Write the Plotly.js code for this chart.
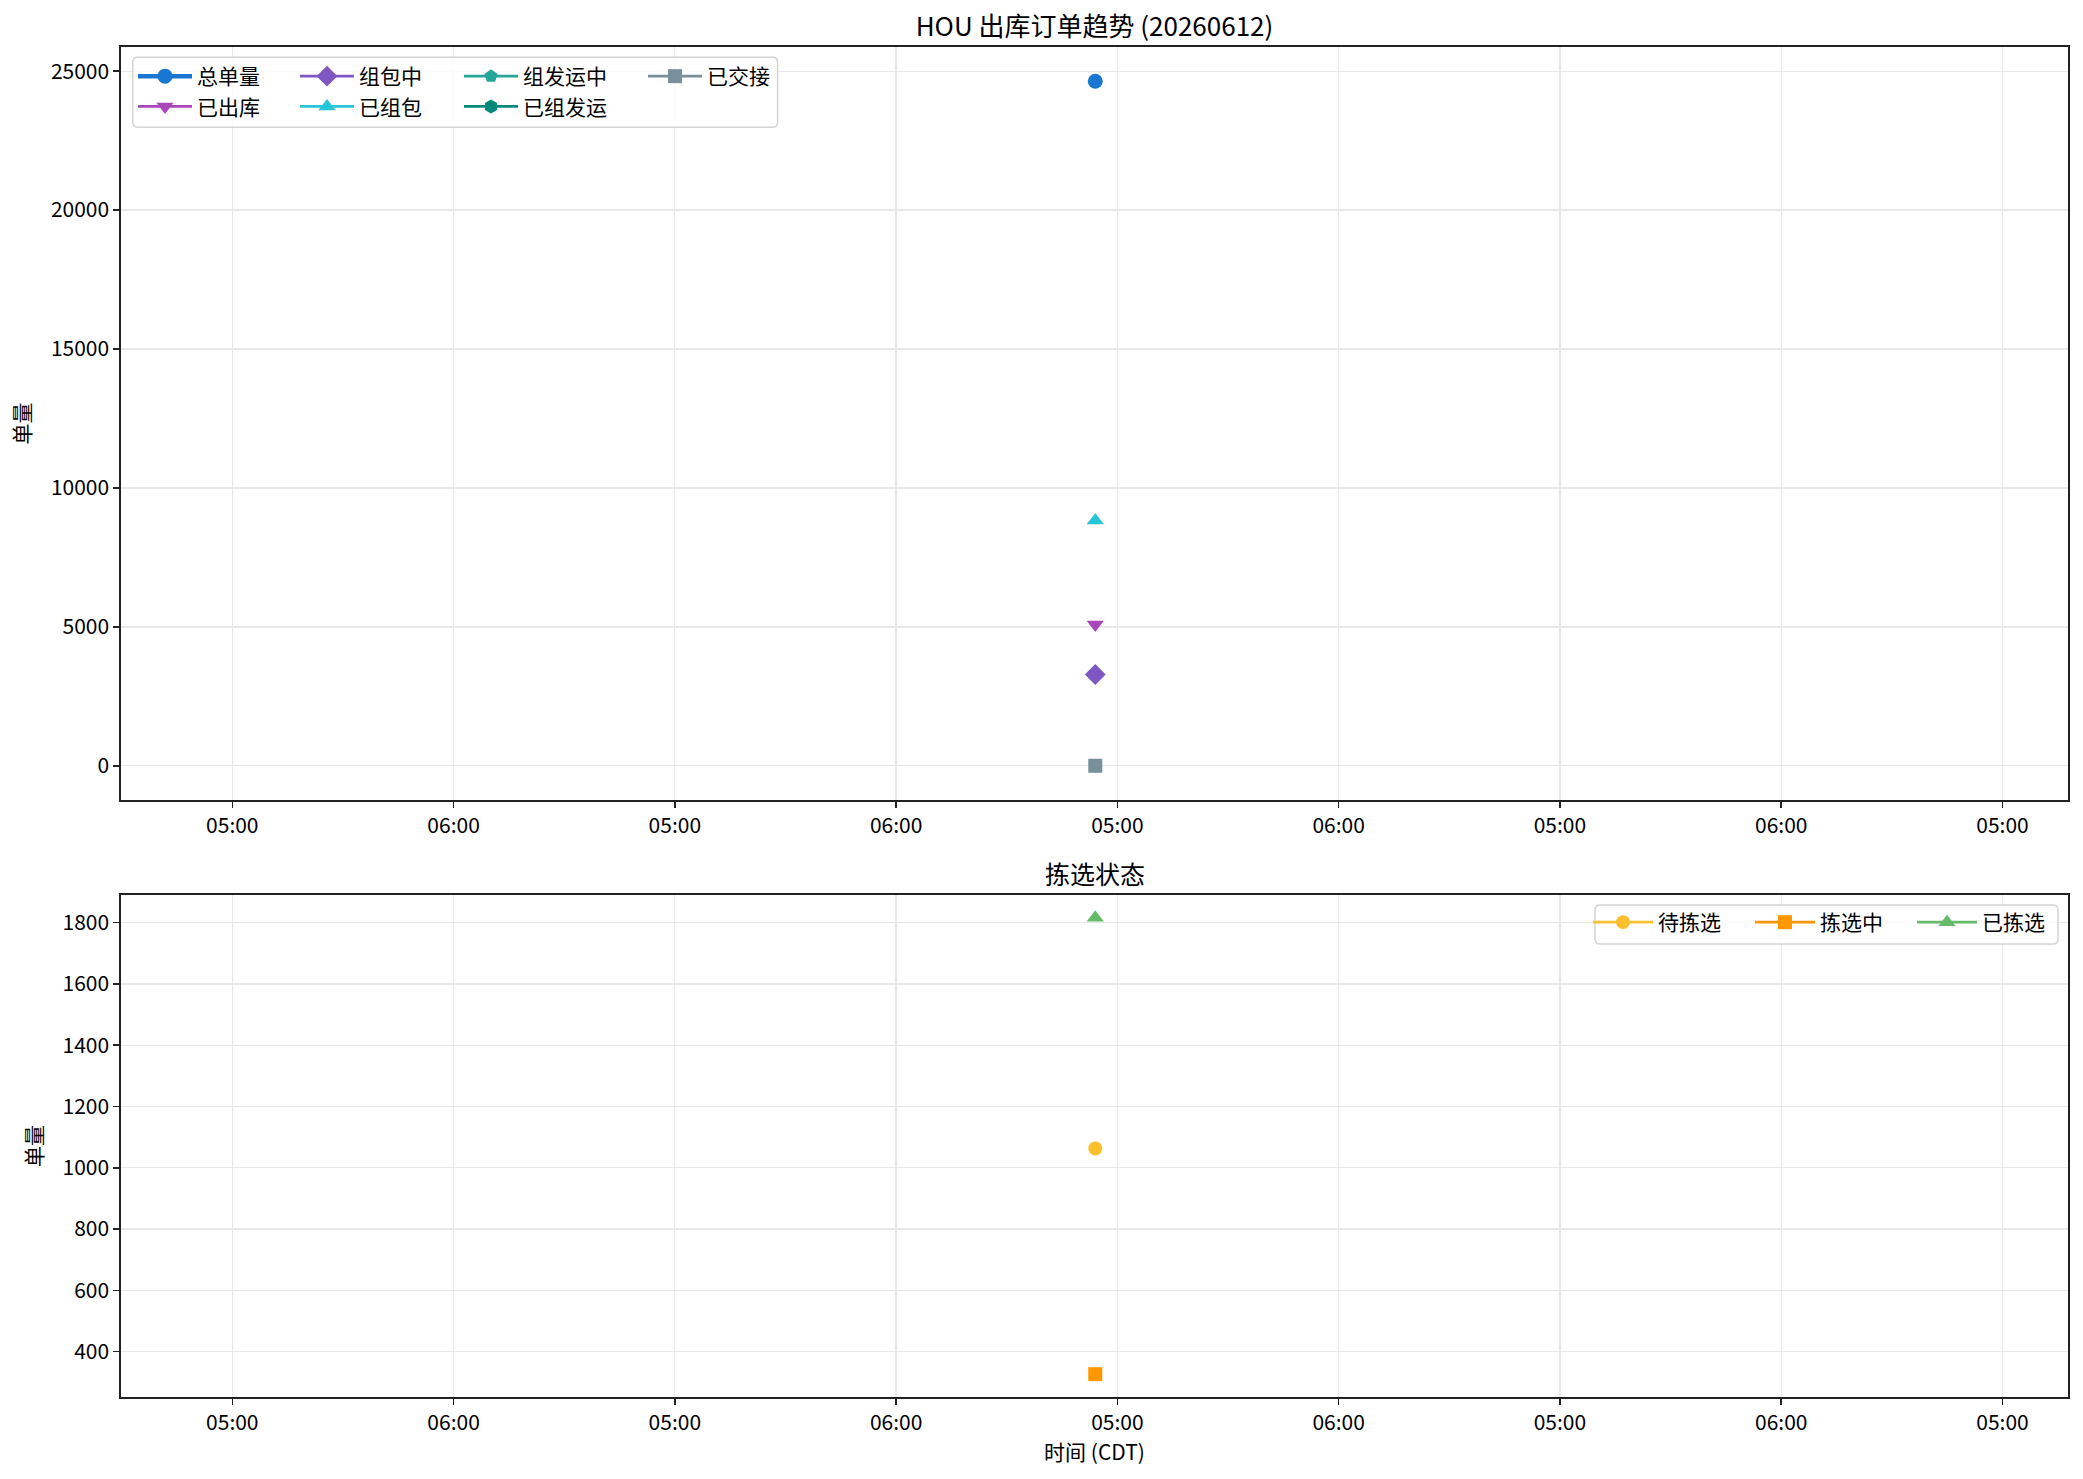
<!DOCTYPE html>
<html><head><meta charset="utf-8">
<script src="https://cdn.plot.ly/plotly-3.0.1.min.js"></script>
<style>html,body{margin:0;padding:0;background:#fff;overflow:hidden}</style>
</head><body><div id="chart" style="width:2083px;height:1479px;overflow:hidden"></div>
<script>
// ---- data ----
const tickLabels = ['05:00','06:00','05:00','06:00','05:00','06:00','05:00','06:00','05:00'];
const snapshotPos = [3.9];
const orderSeries = ['总单量','已出库','组包中','已组包','组发运中','已组发运','已交接'];
const orderValues = [24640, 5083, 3285, 8830, 0, 0, 0];
const pickSeries = ['待拣选','拣选中','已拣选'];
const pickValues = [1063, 326, 1816];
const chartTitle = 'HOU 出库订单趋势 (20260612)';
const subTitle = '拣选状态';
const yTitle = '单量';
const xTitle = '时间 (CDT)';

// ---- styles ----
const FONT = '"Noto Sans CJK SC", "Noto Sans", sans-serif';
const orderColors = ['#1976D2','#AB47BC','#7E57C2','#26C6DA','#26A69A','#00897B','#78909C'];
const orderSymbols = ['circle','triangle-down','diamond','triangle-up','pentagon','hexagon','square'];
const orderSizes = [15,15,16,15,14,14,14];
const orderLegend = ['legend','legend','legend2','legend2','legend3','legend3','legend4'];
const pickColors = ['#FBC02D','#FF9800','#66BB6A'];
const pickSymbols = ['circle','square','triangle-up'];
const pickSizes = [14,14,15];

const traces = [];
orderSeries.forEach((name, i) => {
  traces.push({
    x: snapshotPos, y: [orderValues[i]], name: name, type: 'scatter', mode: 'lines+markers',
    xaxis: 'x', yaxis: 'y', legend: orderLegend[i], legendgroup: 'o' + i,
    line: {color: orderColors[i], width: i === 0 ? 4.5 : 2.8},
    marker: {color: orderColors[i], symbol: orderSymbols[i], size: orderSizes[i]}
  });
});
pickSeries.forEach((name, i) => {
  traces.push({
    x: snapshotPos, y: [pickValues[i]], name: name, type: 'scatter', mode: 'lines+markers',
    xaxis: 'x2', yaxis: 'y2', legend: 'legend5',
    line: {color: pickColors[i], width: 2.8},
    marker: {color: pickColors[i], symbol: pickSymbols[i], size: pickSizes[i]}
  });
});

const tickIdx = tickLabels.map((_, i) => i);
const axisCommon = {
  showline: true, linecolor: '#222', linewidth: 1.6, mirror: true,
  ticks: 'outside', ticklen: 6, tickwidth: 1.5, tickcolor: '#222',
  showgrid: true, gridcolor: '#e8e8e8', gridwidth: 1.3, zeroline: false,
  tickfont: {size: 21, color: '#000'}, automargin: false
};
const xCommon = Object.assign({}, axisCommon, {
  range: [-0.503, 8.296], tickmode: 'array', tickvals: tickIdx, ticktext: tickLabels
});

const W = 2083, H = 1479, ML = 121, MR = 15, MT = 47, MB = 82;
const PW = W - ML - MR, PH = H - MT - MB;
const px2x = p => (p - ML) / PW;
const px2y = p => (H - MB - p) / PH;

// rounded legend boxes
function roundRect(x0p, y0p, x1p, y1p, r) {
  const x0 = px2x(x0p), x1 = px2x(x1p), y0 = px2y(y1p), y1 = px2y(y0p);
  const rx = r / PW, ry = r / PH;
  return `M${x0+rx},${y1} L${x1-rx},${y1} Q${x1},${y1} ${x1},${y1-ry} L${x1},${y0+ry} Q${x1},${y0} ${x1-rx},${y0} L${x0+rx},${y0} Q${x0},${y0} ${x0},${y0+ry} L${x0},${y1-ry} Q${x0},${y1} ${x0+rx},${y1} Z`;
}

const legCommon = {
  orientation: 'v', xanchor: 'left', yanchor: 'top', bgcolor: 'rgba(0,0,0,0)', borderwidth: 0,
  font: {family: FONT, size: 21, color: '#000'}, tracegroupgap: 0, itemsizing: 'trace', itemwidth: 54
};
const legTop = px2y(56);
const boxStyle = {line: {color: '#d4d4d4', width: 1.5}, fillcolor: 'rgba(255,255,255,0.8)', layer: 'above'};

const layout = {
  width: W, height: H,
  margin: {l: ML, r: MR, t: MT, b: MB, autoexpand: false},
  paper_bgcolor: '#fff', plot_bgcolor: '#fff',
  font: {family: FONT, size: 21, color: '#000'},
  showlegend: true,
  title: {text: chartTitle, x: 0.5, xref: 'paper', xanchor: 'center', y: 1 - 27 / H, yanchor: 'middle',
          font: {family: FONT, size: 26, color: '#000'}},
  xaxis: Object.assign({}, xCommon, {domain: [0, 1], anchor: 'y'}),
  yaxis: Object.assign({}, axisCommon, {domain: [px2y(800), 1], anchor: 'x', range: [-1232, 25872],
    tick0: 0, dtick: 5000, tickformat: 'd', title: {text: yTitle, standoff: 14, font: {size: 21}}}),
  xaxis2: Object.assign({}, xCommon, {domain: [0, 1], anchor: 'y2',
    title: {text: xTitle, standoff: 6, font: {size: 21}}}),
  yaxis2: Object.assign({}, axisCommon, {domain: [0, px2y(895)], anchor: 'x2', range: [251.5, 1890.5],
    tick0: 0, dtick: 200, tickformat: 'd', title: {text: yTitle, standoff: 14, font: {size: 21}}}),
  legend: Object.assign({}, legCommon, {x: px2x(133), y: legTop}),
  legend2: Object.assign({}, legCommon, {x: px2x(295), y: legTop}),
  legend3: Object.assign({}, legCommon, {x: px2x(459), y: legTop}),
  legend4: Object.assign({}, legCommon, {x: px2x(643), y: legTop}),
  legend5: {orientation: 'h', xanchor: 'left', yanchor: 'top', x: px2x(1588), y: px2y(902),
    bgcolor: 'rgba(0,0,0,0)', borderwidth: 0,
    font: {family: FONT, size: 21, color: '#000'}, entrywidth: 87, itemsizing: 'trace', itemwidth: 60},
  shapes: [
    Object.assign({type: 'path', xref: 'paper', yref: 'paper', path: roundRect(132.7, 57.3, 777.6, 127.3, 5)}, boxStyle),
    Object.assign({type: 'path', xref: 'paper', yref: 'paper', path: roundRect(1595, 905, 2058, 944, 5)}, boxStyle)
  ],
  annotations: [{text: subTitle, xref: 'paper', yref: 'paper', x: 0.5, y: px2y(895), xanchor: 'center',
    yanchor: 'bottom', yshift: 2, showarrow: false, font: {family: FONT, size: 25, color: '#000'}}]
};

Plotly.newPlot('chart', traces, layout, {displayModeBar: false, staticPlot: true});
</script></body></html>
